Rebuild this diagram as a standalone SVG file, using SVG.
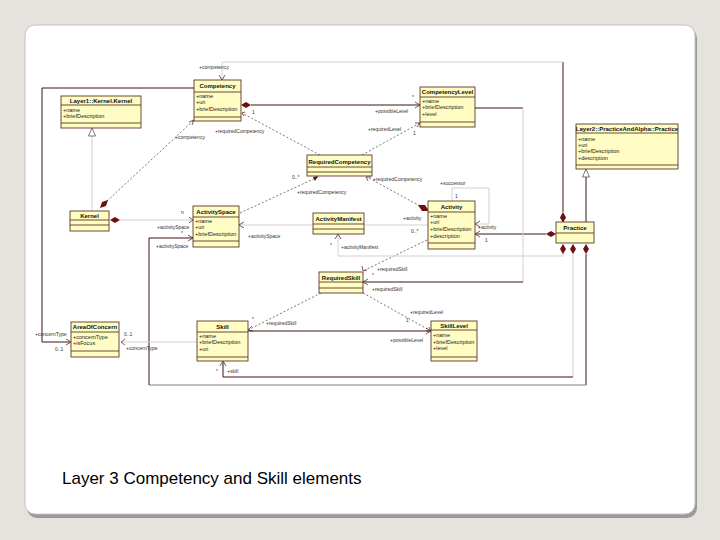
<svg xmlns="http://www.w3.org/2000/svg" width="720" height="540" viewBox="0 0 720 540">
<defs>
<style>
.bg{fill:#e6e3df}
.card{fill:#ffffff;stroke:#c4c4c4;stroke-width:1}
.box{fill:#fffcc4;stroke:#5a3a28;stroke-width:0.9}
.sep{stroke:#5a3a28;stroke-width:0.9}
.hd{font-family:"Liberation Sans",Arial,sans-serif;font-size:6px;font-weight:bold;fill:#111;text-anchor:middle}
.at{font-family:"Liberation Sans",Arial,sans-serif;font-size:5.5px;fill:#222}
.lb{font-family:"Liberation Sans",Arial,sans-serif;font-size:5px;fill:#333}
.dk{fill:none;stroke:#3e1414;stroke-width:1}
.ft{fill:none;stroke:#d9cfcf;stroke-width:1}
.dt{fill:none;stroke:#555;stroke-width:0.8;stroke-dasharray:2,2}
.dia{fill:#6e1010}
.oa{fill:none;stroke:#5a3030;stroke-width:0.8}
.tri{fill:#fff;stroke:#555;stroke-width:0.8}
.title{font-family:"Liberation Sans",Arial,sans-serif;font-size:17px;fill:#000}
</style>
</defs>
<rect class="bg" x="0" y="0" width="720" height="540"/>
<rect x="27" y="28" width="670" height="490" rx="10" fill="#9a9a9a"/>
<rect class="card" x="25" y="25" width="670" height="489" rx="10"/>

<g id="connectors">
<path class="dk" d="M563,212 V62"/>
<path class="ft" d="M563,62 H222 V79"/>
<path class="oa" d="M219,75 L222,80 L225,75"/>
<path class="dia" d="M563,223 L566,217.5 L563,212 L560,217.5 Z"/>
<path class="dk" d="M194,88 H42 V342 H70"/>
<path class="oa" d="M66,339 L71,342 L66,345"/>
<path class="dk" d="M251,105 H420"/>
<path class="dia" d="M241,105 L246,102 L251,105 L246,108 Z"/>
<path class="oa" d="M415,102 L420,105 L415,108"/>
<path class="dt" d="M320,155 L242,113"/>
<path class="oa" d="M245,112 L242,113 L244,116"/>
<path class="dt" d="M362,155 L420,123"/>
<path class="oa" d="M415,123 L420,123 L417,127"/>
<path class="dt" d="M107,201 L194,120"/>
<path class="dia" d="M100,208 L102,202 L108,200 L106,206 Z"/>
<path class="oa" d="M189,122 L194,120 L192,125"/>
<path class="ft" d="M120,220 H193"/>
<path class="dia" d="M110,220 L115,217 L120,220 L115,223 Z"/>
<path class="oa" d="M189,217 L193,220 L189,223"/>
<path class="ft" d="M92,211 V136"/>
<path class="tri" d="M92,128 L95.5,136 L88.5,136 Z"/>
<path class="dk" d="M586,222 V177"/>
<path class="tri" d="M586,169 L589.5,177 L582.5,177 Z"/>
<path class="dk" d="M546,234 H475"/>
<path class="dia" d="M546,234 L551,231 L556,234 L551,237 Z"/>
<path class="oa" d="M480,231 L475,234 L480,237"/>
<path class="ft" d="M452,201 V188 H489 V224 H475"/>
<path class="oa" d="M480,221 L475,224 L480,227"/>
<path class="dt" d="M420,206 L367,177"/>
<path class="dia" d="M429,211 L422,211 L418,205 L425,205 Z"/>
<path class="oa" d="M368,181 L366,177 L371,177"/>
<path class="dt" d="M240,213 L318,177"/>
<path fill="#3e1414" d="M318,176 L313,177 L315,181 Z"/>
<path class="ft" d="M239,225 H428"/>
<path class="oa" d="M244,222 L239,225 L244,228"/>
<path class="dt" d="M427,240 L363,271"/>
<path class="oa" d="M362,266 L363,271 L367,270"/>
<path class="dk" d="M475,108 H523"/>
<path class="ft" d="M523,108 V282"/>
<path class="dk" d="M523,282 H363"/>
<path class="oa" d="M368,279 L363,282 L368,285"/>
<path class="ft" d="M563,249 V256 H338 V235"/>
<path class="oa" d="M335,239 L338,234 L341,239"/>
<path class="dia" d="M563,244 L566,249 L563,254 L560,249 Z"/>
<path class="ft" d="M573,254 V377"/>
<path class="dk" d="M573,377 H223 V362"/>
<path class="oa" d="M220,366 L223,361 L226,366"/>
<path class="dia" d="M573,244 L576,249 L573,254 L570,249 Z"/>
<path class="dk" d="M586,254 V385"/>
<path fill="none" stroke="#8a7c7c" stroke-width="1" d="M586,385 H149"/>
<path class="dk" d="M149,385 V238 H193"/>
<path class="oa" d="M188,235 L193,238 L188,241"/>
<path class="dia" d="M586,244 L589,249 L586,254 L583,249 Z"/>
<path class="dt" d="M321,293 L248,330"/>
<path class="oa" d="M252,326 L248,330 L253,331"/>
<path class="dt" d="M363,293 L431,331"/>
<path class="oa" d="M426,331 L431,331 L429,327"/>
<path class="dk" d="M248,331 H431"/>
<path class="oa" d="M426,328 L431,331 L426,334"/>
<path class="ft" d="M121,342 H197"/>
<path class="oa" d="M125,339 L121,342 L125,345"/>
</g>

<g id="labels">
<text class="lb" x="199" y="69">+competency</text>
<text class="lb" x="35" y="336">+concernType</text>
<text class="lb" x="55" y="351">0..1</text>
<text class="lb" x="252" y="114">1</text>
<text class="lb" x="412" y="99">*</text>
<text class="lb" x="375" y="113">+possibleLevel</text>
<text class="lb" x="215" y="133">+requiredCompetency</text>
<text class="lb" x="368" y="131">+requiredLevel</text>
<text class="lb" x="413" y="135">1</text>
<text class="lb" x="175" y="139">+competency</text>
<text class="lb" x="181" y="214">n</text>
<text class="lb" x="157" y="229">+activitySpace</text>
<text class="lb" x="181" y="235">*</text>
<text class="lb" x="478" y="229">+activity</text>
<text class="lb" x="485" y="242">1</text>
<text class="lb" x="440" y="185">+successor</text>
<text class="lb" x="455" y="198">1</text>
<text class="lb" x="373" y="181">+requiredCompetency</text>
<text class="lb" x="292" y="179">0..*</text>
<text class="lb" x="297" y="194">+requiredCompetency</text>
<text class="lb" x="248" y="238">+activitySpace</text>
<text class="lb" x="403" y="220">+activity</text>
<text class="lb" x="411" y="233">0..*</text>
<text class="lb" x="377" y="271">+requiredSkill</text>
<text class="lb" x="372" y="277">*</text>
<text class="lb" x="372" y="291">+requiredSkill</text>
<text class="lb" x="341" y="249">+activityManifest</text>
<text class="lb" x="330" y="247">*</text>
<text class="lb" x="227" y="373">+skill</text>
<text class="lb" x="216" y="373">*</text>
<text class="lb" x="156" y="248">+activitySpace</text>
<text class="lb" x="252" y="321">*</text>
<text class="lb" x="266" y="325">+requiredSkill</text>
<text class="lb" x="410" y="314">+requiredLevel</text>
<text class="lb" x="406" y="322">1</text>
<text class="lb" x="390" y="342">+possibleLevel</text>
<text class="lb" x="124" y="336">0..1</text>
<text class="lb" x="126" y="350">+concernType</text>
</g>

<g id="layer1-kernel">
<rect class="box" x="61" y="96" width="80" height="32"/>
<line class="sep" x1="61" y1="105" x2="141" y2="105"/>
<line class="sep" x1="61" y1="123" x2="141" y2="123"/>
<text class="hd" x="101" y="103">Layer1::Kernel.Kernel</text>
<text class="at" x="63" y="112">+name</text>
<text class="at" x="63" y="118">+briefDescription</text>
</g>
<g id="competency">
<rect class="box" x="194" y="80" width="47" height="41"/>
<line class="sep" x1="194" y1="92" x2="241" y2="92"/>
<line class="sep" x1="194" y1="117" x2="241" y2="117"/>
<text class="hd" x="217.5" y="88">Competency</text>
<text class="at" x="196" y="98">+name</text>
<text class="at" x="196" y="104">+uri</text>
<text class="at" x="196" y="111">+briefDescription</text>
</g>
<g id="competency-level">
<rect class="box" x="420" y="87" width="55" height="40"/>
<line class="sep" x1="420" y1="97" x2="475" y2="97"/>
<line class="sep" x1="420" y1="122" x2="475" y2="122"/>
<text class="hd" x="447.5" y="94">CompetencyLevel</text>
<text class="at" x="422" y="103">+name</text>
<text class="at" x="422" y="109">+briefDescription</text>
<text class="at" x="422" y="116">+level</text>
</g>
<g id="layer2-practice">
<rect class="box" x="576" y="124" width="102" height="45"/>
<line class="sep" x1="576" y1="133" x2="678" y2="133"/>
<line class="sep" x1="576" y1="165" x2="678" y2="165"/>
<text class="hd" x="627" y="131">Layer2::PracticeAndAlpha::Practice</text>
<text class="at" x="578" y="141">+name</text>
<text class="at" x="578" y="147">+uri</text>
<text class="at" x="578" y="153">+briefDescription</text>
<text class="at" x="578" y="160">+description</text>
</g>
<g id="practice">
<rect class="box" x="556" y="222" width="38" height="21"/>
<line class="sep" x1="556" y1="233" x2="594" y2="233"/>
<text class="hd" x="575" y="230">Practice</text>
</g>
<g id="required-competency">
<rect class="box" x="307" y="155" width="65" height="21"/>
<line class="sep" x1="307" y1="167" x2="372" y2="167"/>
<line class="sep" x1="307" y1="172" x2="372" y2="172"/>
<text class="hd" x="339.5" y="164">RequiredCompetency</text>
</g>
<g id="kernel">
<rect class="box" x="70" y="211" width="39" height="20"/>
<line class="sep" x1="70" y1="220" x2="109" y2="220"/>
<line class="sep" x1="70" y1="225" x2="109" y2="225"/>
<text class="hd" x="89.5" y="218">Kernel</text>
</g>
<g id="activity-space">
<rect class="box" x="193" y="206" width="46" height="41"/>
<line class="sep" x1="193" y1="217" x2="239" y2="217"/>
<line class="sep" x1="193" y1="241" x2="239" y2="241"/>
<text class="hd" x="216" y="214">ActivitySpace</text>
<text class="at" x="195" y="223">+name</text>
<text class="at" x="195" y="229">+uri</text>
<text class="at" x="195" y="236">+briefDescription</text>
</g>
<g id="activity-manifest">
<rect class="box" x="313" y="213" width="51" height="21"/>
<line class="sep" x1="313" y1="224" x2="364" y2="224"/>
<line class="sep" x1="313" y1="229" x2="364" y2="229"/>
<text class="hd" x="338.5" y="221">ActivityManifest</text>
</g>
<g id="activity">
<rect class="box" x="428" y="201" width="47" height="48"/>
<line class="sep" x1="428" y1="212" x2="475" y2="212"/>
<line class="sep" x1="428" y1="243" x2="475" y2="243"/>
<text class="hd" x="451.5" y="209">Activity</text>
<text class="at" x="430" y="218">+name</text>
<text class="at" x="430" y="224">+uri</text>
<text class="at" x="430" y="231">+briefDescription</text>
<text class="at" x="430" y="238">+description</text>
</g>
<g id="required-skill">
<rect class="box" x="319" y="272" width="44" height="21"/>
<line class="sep" x1="319" y1="282" x2="363" y2="282"/>
<line class="sep" x1="319" y1="288" x2="363" y2="288"/>
<text class="hd" x="341" y="280">RequiredSkill</text>
</g>
<g id="area-of-concern">
<rect class="box" x="71" y="322" width="48" height="35"/>
<line class="sep" x1="71" y1="332" x2="119" y2="332"/>
<line class="sep" x1="71" y1="351" x2="119" y2="351"/>
<text class="hd" x="95" y="329">AreaOfConcern</text>
<text class="at" x="73" y="339">+concernType</text>
<text class="at" x="73" y="345">+isFocus</text>
</g>
<g id="skill">
<rect class="box" x="197" y="321" width="51" height="40"/>
<line class="sep" x1="197" y1="332" x2="248" y2="332"/>
<line class="sep" x1="197" y1="357" x2="248" y2="357"/>
<text class="hd" x="222.5" y="329">Skill</text>
<text class="at" x="199" y="338">+name</text>
<text class="at" x="199" y="344">+briefDescription</text>
<text class="at" x="199" y="351">+uri</text>
</g>
<g id="skill-level">
<rect class="box" x="431" y="321" width="46" height="40"/>
<line class="sep" x1="431" y1="330" x2="477" y2="330"/>
<line class="sep" x1="431" y1="357" x2="477" y2="357"/>
<text class="hd" x="454" y="328">SkillLevel</text>
<text class="at" x="433" y="337">+name</text>
<text class="at" x="433" y="344">+briefDescription</text>
<text class="at" x="433" y="350">+level</text>
</g>

<text class="title" x="62" y="484">Layer 3 Competency and Skill elements</text>
</svg>
